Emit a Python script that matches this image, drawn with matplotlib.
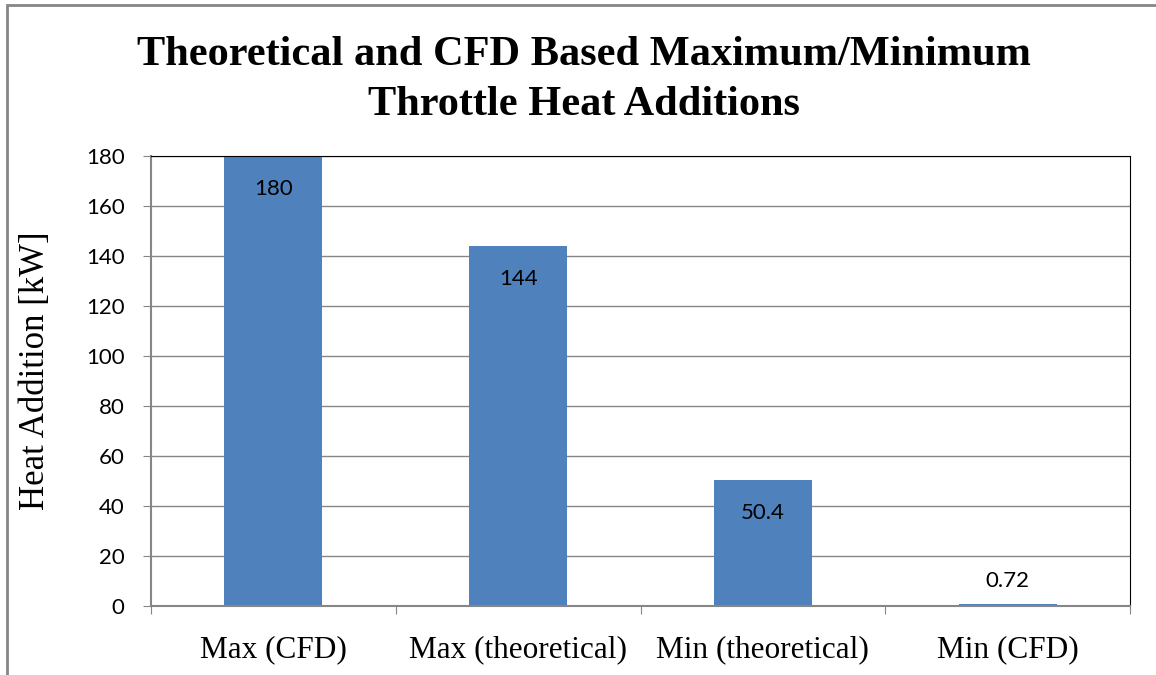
import numpy as np
import matplotlib.pyplot as plt
from matplotlib.patches import Rectangle

categories = ['Max (CFD)', 'Max (theoretical)', 'Min (theoretical)', 'Min (CFD)']
heat_kw = [180, 144, 50.4, 0.72]
value_labels = ['180', '144', '50.4', '0.72']
yticks = [0, 20, 40, 60, 80, 100, 120, 140, 160, 180]
title_lines = ['Theoretical and CFD Based Maximum/Minimum', 'Throttle Heat Additions']

W, H = 1156, 675
fig = plt.figure(figsize=(W / 100, H / 100), dpi=100)
ax = fig.add_axes([151/W, 1 - 606/H, 979/W, 450/H])

x = np.arange(len(categories))
ax.bar(x, heat_kw, width=0.4, color='#4f81bd', zorder=2)

for xi, v, lab in zip(x, heat_kw, value_labels):
    dy = -24 if v > 20 else 17
    ax.annotate(lab, (xi, v), xytext=(0, dy), textcoords='offset points',
                ha='center', va='center', fontsize=16, family='Lato')

ax.set_xlim(-0.5, len(categories) - 0.5)
ax.set_ylim(0, 180)
ax.set_yticks(yticks)
ax.set_yticklabels([str(t) for t in yticks], fontsize=16, family='Lato')
ax.yaxis.grid(True, color='#868686', lw=1, zorder=0)
ax.tick_params(axis='y', length=6, color='#868686', pad=13)

ax.set_xticks(np.arange(len(categories) + 1) - 0.5)
ax.set_xticklabels([])
ax.set_xticks(x, minor=True)
ax.set_xticklabels(categories, minor=True, fontsize=22.5, family='Liberation Serif')
ax.tick_params(axis='x', which='major', length=6, color='#868686')
ax.tick_params(axis='x', which='minor', length=0, pad=21)

ax.spines['left'].set_color('#868686')
ax.spines['bottom'].set_color('#868686')
ax.spines['left'].set_linewidth(1.5)
ax.spines['bottom'].set_linewidth(1.5)
ax.spines['top'].set_color('black')
ax.spines['right'].set_color('black')

ax.set_ylabel('Heat Addition [kW]', fontsize=25, family='Liberation Serif')
ax.yaxis.set_label_coords(-(151 - 36) / 979, 0.522)
ax.yaxis.label.set_va('center')

fig.text(0.505, 1 - 65/H, title_lines[0], ha='center', va='baseline',
         fontsize=30.5, fontweight='bold', family='Liberation Serif')
fig.text(0.505, 1 - 115/H, title_lines[1], ha='center', va='baseline',
         fontsize=30.5, fontweight='bold', family='Liberation Serif')

fig.patches.append(Rectangle((7/W, -0.01), 1.1, 1.01 - 4.5/H, transform=fig.transFigure,
                             fill=False, edgecolor='#868686', lw=2))

fig.savefig('out.png', dpi=100)
